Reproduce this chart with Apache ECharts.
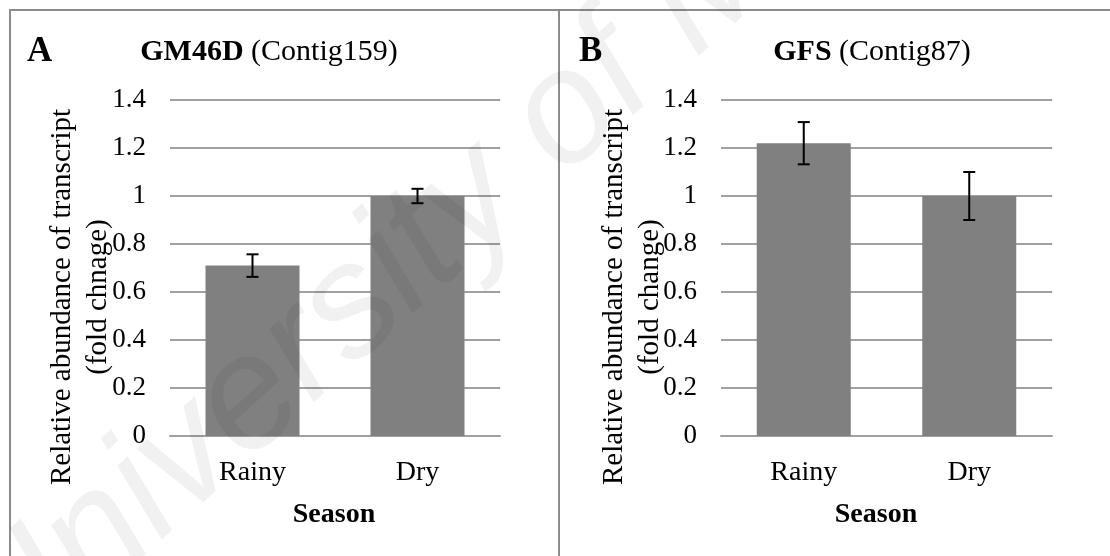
<!DOCTYPE html>
<html>
<head>
<meta charset="utf-8">
<script src="https://cdn.jsdelivr.net/npm/echarts@6/dist/echarts.min.js"></script>
<style>
html,body{margin:0;padding:0;background:#fff;}
#chart{width:1110px;height:556px;}
</style>
</head>
<body>
<div id="chart"></div>
<script>
// ---- data ----
const categories = ['Rainy', 'Dry'];
const valuesA = [0.71, 1.0];
const errorsA = [0.047, 0.03];
const valuesB = [1.22, 1.0];
const errorsB = [0.088, 0.1];
const yMin = 0, yMax = 1.4, yStep = 0.2;
const panelLetters = ['A', 'B'];
const titleBold = ['GM46D', 'GFS'];
const titleNormal = ['(Contig159)', '(Contig87)'];
const yTitles = ['Relative abundance of transcript\n(fold chnage)', 'Relative abundance of transcript\n(fold change)'];
const xTitle = 'Season';
const watermark = 'University of Malaya';

const FONT = '"Liberation Serif", "Times New Roman", serif';
const chart = echarts.init(document.getElementById('chart'), null, {renderer: 'canvas'});

function errData(vals, errs) {
  return vals.map((v, i) => [i, v - errs[i], v + errs[i]]);
}
function renderErr(params, api) {
  const x = api.value(0);
  const lo = api.coord([x, api.value(1)]);
  const hi = api.coord([x, api.value(2)]);
  const cap = 6;
  const st = {stroke: '#000', lineWidth: 2};
  return {
    type: 'group',
    children: [
      {type: 'line', shape: {x1: lo[0], y1: lo[1], x2: hi[0], y2: hi[1]}, style: st},
      {type: 'line', shape: {x1: lo[0] - cap, y1: lo[1], x2: lo[0] + cap, y2: lo[1]}, style: st},
      {type: 'line', shape: {x1: hi[0] - cap, y1: hi[1], x2: hi[0] + cap, y2: hi[1]}, style: st}
    ]
  };
}

const grids = [
  {left: 170, right: 610, top: 100, bottom: 120},
  {left: 721, right: 58, top: 100, bottom: 120}
];
const xAxes = grids.map((g, i) => ({
  type: 'category', gridIndex: i, data: categories,
  axisLine: {show: true, lineStyle: {color: '#a0a0a0', width: 2}},
  axisTick: {show: false},
  axisLabel: {color: '#000', fontFamily: FONT, fontSize: 28, margin: 23}
}));
const yAxes = grids.map((g, i) => ({
  type: 'value', gridIndex: i, min: yMin, max: yMax, interval: yStep,
  axisLine: {show: false}, axisTick: {show: false},
  splitLine: {lineStyle: {color: '#a0a0a0', width: 2}},
  axisLabel: {color: '#000', fontFamily: FONT, fontSize: 27, margin: 24}
}));

const series = [
  {type: 'bar', xAxisIndex: 0, yAxisIndex: 0, data: valuesA, barWidth: 94, itemStyle: {color: '#808080'}, z: 2},
  {type: 'bar', xAxisIndex: 1, yAxisIndex: 1, data: valuesB, barWidth: 94, itemStyle: {color: '#808080'}, z: 2},
  {type: 'custom', xAxisIndex: 0, yAxisIndex: 0, data: errData(valuesA, errorsA), renderItem: renderErr, z: 5},
  {type: 'custom', xAxisIndex: 1, yAxisIndex: 1, data: errData(valuesB, errorsB), renderItem: renderErr, z: 5}
];

const off = [0, 552];
const titleCx = [269, 872];
const seasonCx = [334, 876];
const graphic = [
  {type: 'line', shape: {x1: 9, y1: 10, x2: 1110, y2: 10}, style: {stroke: '#8c8c8c', lineWidth: 2}},
  {type: 'line', shape: {x1: 10, y1: 10, x2: 10, y2: 556}, style: {stroke: '#8c8c8c', lineWidth: 2}},
  {type: 'line', shape: {x1: 559, y1: 10, x2: 559, y2: 556}, style: {stroke: '#8c8c8c', lineWidth: 2}}
];
for (let i = 0; i < 2; i++) {
  graphic.push({
    type: 'text', x: i === 0 ? 27 : 579, y: 52,
    style: {text: panelLetters[i], font: 'bold 35px ' + FONT, fill: '#000', align: 'left', verticalAlign: 'middle'}
  });
  graphic.push({
    type: 'text', x: titleCx[i], y: 52,
    style: {
      text: '{b|' + titleBold[i] + '} {n|' + titleNormal[i] + '}',
      align: 'center', verticalAlign: 'middle',
      rich: {
        b: {fontFamily: FONT, fontWeight: 'bold', fontSize: 30, fill: '#000'},
        n: {fontFamily: FONT, fontSize: 30, fill: '#000'}
      },
      font: '30px ' + FONT, fill: '#000'
    }
  });
  graphic.push({
    type: 'text', x: 80 + off[i], y: 297, rotation: Math.PI / 2,
    style: {
      text: yTitles[i], align: 'center', verticalAlign: 'middle',
      font: '29px ' + FONT, lineHeight: 36, fill: '#000'
    }
  });
  graphic.push({
    type: 'text', x: seasonCx[i], y: 515,
    style: {text: xTitle, align: 'center', verticalAlign: 'middle', font: 'bold 28px ' + FONT, fill: '#000'}
  });
}
// faint diagonal watermark seen in the reference
graphic.push({
  type: 'text', x: -22, y: 645, rotation: 42 * Math.PI / 180, z: 100, silent: true,
  style: {
    text: watermark, align: 'left', verticalAlign: 'middle',
    font: 'italic 160px "Liberation Sans", Arial, sans-serif', fill: 'rgba(0,0,0,0.055)'
  }
});

chart.setOption({
  backgroundColor: '#fff',
  animation: false,
  grid: grids,
  xAxis: xAxes,
  yAxis: yAxes,
  series: series,
  graphic: graphic
});
</script>
</body>
</html>
